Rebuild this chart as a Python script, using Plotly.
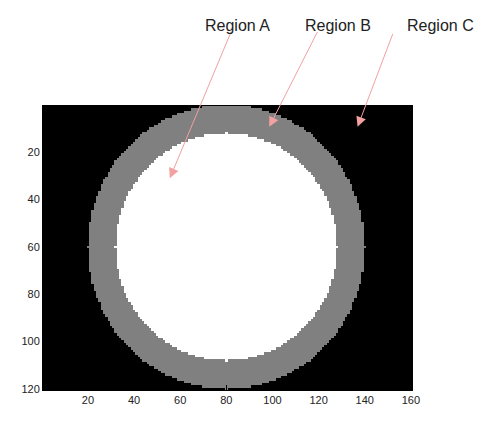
import numpy as np
import plotly.graph_objects as go

# ---- data ----
n_cols = 160
n_rows = 120
center_x = 80
center_y = 60
outer_radius = 60
inner_radius = 48
level_outside = 0.0   # Region C
level_ring = 0.5      # Region B
level_inside = 1.0    # Region A

x_ticks = [20, 40, 60, 80, 100, 120, 140, 160]
y_ticks = [20, 40, 60, 80, 100, 120]

region_labels = ["Region A", "Region B", "Region C"]
arrow_tip_x = [55.5, 98.6, 136.9]
arrow_tip_y = [31.0, 9.3, 9.3]
arrow_tail_x = [82.3, 119.8, 152.4]
arrow_tail_y = [-31.4, -31.4, -30.6]
label_x_px = [229, 330, 432]

# ---- build image ----
xs = np.arange(1, n_cols + 1)
ys = np.arange(1, n_rows + 1)
XX, YY = np.meshgrid(xs, ys)
d2 = (XX - center_x) ** 2 + (YY - center_y) ** 2
z = np.full(d2.shape, level_outside)
z[d2 <= outer_radius ** 2] = level_ring
z[d2 <= inner_radius ** 2] = level_inside

W, H = 492, 428
ml, mr, mt, mb = 35, 88, 98, 46

fig = go.Figure(go.Heatmap(
    z=z, x=xs, y=ys, zmin=0, zmax=1,
    colorscale=[[0, "#000000"], [0.5, "#808080"], [1, "#ffffff"]],
    showscale=False, hoverinfo="skip",
))

annotations = []
for lab, tx, ty, ax, ay, lx in zip(region_labels, arrow_tip_x, arrow_tip_y,
                                   arrow_tail_x, arrow_tail_y, label_x_px):
    annotations.append(dict(
        x=tx, y=ty, xref="x", yref="y",
        ax=ax, ay=ay, axref="x", ayref="y",
        text="", showarrow=True, arrowhead=2, arrowsize=2.0,
        arrowwidth=1, arrowcolor="#f2a0a0",
    ))
    annotations.append(dict(
        x=(lx - ml) / (W - ml - mr), y=(H - 17 - mb) / (H - mt - mb),
        xref="paper", yref="paper", xanchor="center", yanchor="middle",
        text=lab, showarrow=False,
        font=dict(family="Liberation Sans, Arial", size=16, color="#222222"),
    ))

fig.update_layout(
    width=W, height=H,
    margin=dict(l=ml, r=mr, t=mt, b=mb, pad=0),
    paper_bgcolor="white", plot_bgcolor="black",
    font=dict(family="Liberation Sans, Arial", size=11, color="#222222"),
    annotations=annotations,
    xaxis=dict(range=[0.5, n_cols + 0.5], tickvals=x_ticks, ticks="inside",
               ticklen=5, tickcolor="black", showline=True, linecolor="black",
               mirror=True, showgrid=False, zeroline=False),
    yaxis=dict(range=[n_rows + 0.5, 0.5], tickvals=y_ticks, ticks="inside",
               ticklen=5, tickcolor="black", showline=True, linecolor="black",
               mirror=True, showgrid=False, zeroline=False),
)

fig.write_html("out.html")
